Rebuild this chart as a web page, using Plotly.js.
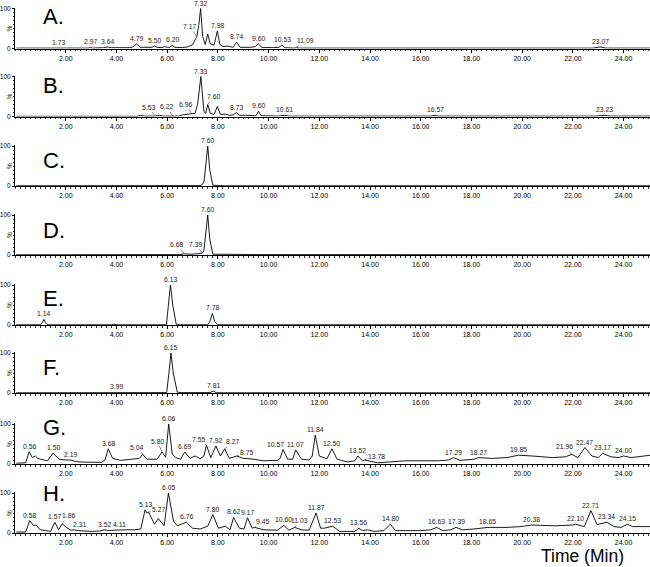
<!DOCTYPE html>
<html>
<head>
<meta charset="utf-8">
<script src="https://cdn.plot.ly/plotly-3.0.1.min.js"></script>
<style>
  html, body { margin: 0; padding: 0; background: #fff; }
  #chart { width: 650px; height: 567px; }
</style>
</head>
<body>
<div id="chart"></div>
<script>
// time (min), intensity (%) pairs
const traceA = [[0.05,1],[0.6,1],[0.8,2],[1.0,1],[1.6,1],[1.73,2],[1.85,1],[2.5,1],[2.9,1],[2.97,3],[3.05,1],[3.5,2],[3.64,4],[3.8,2],[4.5,2],[4.65,4],[4.79,11],[4.95,3],[5.3,2],[5.4,3],[5.50,6],[5.6,3],[5.8,2],[5.9,5],[6.0,3],[6.1,3],[6.20,8],[6.3,3],[6.6,2],[6.8,4],[7.0,9],[7.17,30],[7.25,60],[7.32,100],[7.4,30],[7.5,10],[7.6,36],[7.7,12],[7.85,8],[7.98,44],[8.08,10],[8.2,5],[8.4,6],[8.6,3],[8.74,16],[8.88,3],[9.3,3],[9.48,5],[9.60,12],[9.72,3],[10.2,2],[10.4,3],[10.53,8],[10.65,2],[11.0,1],[11.09,2],[11.2,1],[12.5,1],[13.0,2],[13.5,1],[14.5,1],[16.0,1],[17.0,1],[19.0,1],[21.0,1],[22.8,1],[23.07,4],[23.3,1],[25.07,1]];
const traceB = [[0.05,0.5],[4.8,0.5],[4.95,3],[5.1,1],[5.5,1],[5.53,1],[5.7,3],[5.85,1],[6.1,1],[6.22,1.5],[6.3,2],[6.45,1],[6.6,4],[6.96,8],[7.1,8],[7.2,30],[7.33,100],[7.45,12],[7.52,8],[7.60,30],[7.7,8],[7.85,5],[7.98,25],[8.1,5],[8.3,6],[8.45,3],[8.6,4],[8.73,10],[8.85,3],[9.1,3],[9.3,2],[9.5,2],[9.60,13],[9.7,2],[10.4,1],[10.61,3],[10.8,1],[16.4,1],[16.57,3],[16.7,1],[21.0,1],[21.3,2],[21.5,1],[22.9,1],[23.23,3],[23.5,1],[25.07,1]];
const traceC = [[0.05,0.5],[5.8,0.5],[5.9,1.5],[6.0,0.5],[6.6,0.5],[6.7,1.5],[6.85,0.5],[7.3,1],[7.39,4],[7.45,10],[7.52,50],[7.60,100],[7.68,40],[7.8,2],[8.1,1],[8.2,1.5],[8.3,0.5],[25.07,0.5]];
const traceD = [[0.05,0.5],[0.6,0.5],[0.7,1.5],[0.9,0.5],[5.8,0.5],[5.9,1.5],[6.0,0.5],[6.5,1],[6.68,3],[6.9,2],[7.2,3],[7.39,5],[7.45,12],[7.52,55],[7.60,100],[7.68,40],[7.8,2],[8.8,1.5],[9.1,1],[9.5,1],[25.07,0.5]];
const traceE = [[0.05,0.5],[0.7,0.5],[0.8,1.5],[0.9,0.5],[1.0,0.5],[1.08,6],[1.14,14],[1.2,6],[1.3,0.5],[3.8,0.5],[3.9,2],[4.05,0.5],[5.97,0.5],[6.05,50],[6.13,100],[6.22,50],[6.36,1],[6.5,0.5],[7.0,0.5],[7.1,1.5],[7.45,1.5],[7.6,0.5],[7.68,8],[7.78,29],[7.88,8],[7.98,0.5],[25.07,0.5]];
const traceF = [[0.05,0.5],[0.7,0.5],[0.8,1.5],[0.9,0.5],[3.4,0.5],[3.5,1.5],[3.6,0.5],[3.9,0.5],[3.99,2],[4.1,0.5],[4.2,1.5],[4.25,0.5],[5.55,0.5],[5.65,1.5],[5.8,0.5],[5.98,1],[6.07,50],[6.15,100],[6.24,50],[6.4,2],[6.55,1],[7.0,0.5],[7.7,1],[7.81,5],[7.95,0.5],[25.07,0.5]];
const traceG = [[0.05,2],[0.42,3],[0.56,31],[0.68,16],[0.8,20],[0.9,14],[1.0,12],[1.28,8],[1.50,27],[1.74,12],[2.0,10],[2.19,10],[2.4,6],[2.6,5],[3.4,4],[3.55,10],[3.68,38],[3.85,14],[4.17,9],[4.69,12],[4.9,14],[5.04,24],[5.2,12],[5.6,12],[5.7,20],[5.80,30],[5.94,17],[6.06,100],[6.2,25],[6.34,16],[6.53,12],[6.69,30],[6.9,14],[7.1,20],[7.3,13],[7.45,20],[7.55,47],[7.72,16],[7.92,45],[8.1,20],[8.27,38],[8.45,14],[8.75,20],[9.0,14],[9.3,13],[9.8,8],[10.35,9],[10.45,14],[10.57,36],[10.75,12],[10.95,12],[11.07,35],[11.3,12],[11.6,10],[11.72,20],[11.84,72],[12.0,20],[12.3,13],[12.50,38],[12.7,12],[13.1,5],[13.4,8],[13.52,20],[13.7,8],[13.78,10],[14.3,3],[15.4,8],[16.7,8],[17.1,10],[17.29,16],[17.55,9],[18.1,12],[18.27,16],[18.8,14],[19.4,16],[19.85,22],[20.4,20],[21.2,16],[21.7,18],[21.96,24],[22.2,16],[22.47,41],[22.75,20],[23.0,16],[23.17,27],[23.5,18],[23.8,16],[24.00,20],[24.3,16],[25.07,22]];
const traceH = [[0.05,2.5],[0.42,2.5],[0.58,31],[0.72,19],[0.82,20],[1.0,8],[1.4,4],[1.57,27],[1.72,8],[1.86,23],[2.05,13],[2.2,7],[2.31,8],[2.5,6],[3.0,4],[3.35,5],[3.52,8],[3.7,6],[3.9,7],[4.11,8],[4.4,8],[4.7,8],[4.96,10],[5.13,58],[5.2,50],[5.27,52],[5.5,22],[5.65,36],[5.88,18],[6.05,100],[6.25,30],[6.4,18],[6.6,23],[6.76,27],[7.0,12],[7.3,10],[7.6,17],[7.80,46],[8.02,12],[8.3,17],[8.48,8],[8.62,39],[8.85,12],[9.03,10],[9.17,38],[9.35,12],[9.45,14],[9.8,8],[10.35,7],[10.60,19],[10.8,7],[11.03,14],[11.3,8],[11.6,7],[11.87,50],[12.05,12],[12.2,12],[12.53,17],[12.8,4],[13.4,4],[13.56,12],[13.7,6],[13.9,8],[14.16,4],[14.55,6],[14.80,22],[15.0,6],[16.0,6],[16.4,8],[16.63,14],[16.86,6],[17.18,8],[17.39,14],[17.64,8],[18.1,10],[18.65,14],[19.4,14],[19.95,16],[20.38,20],[21.3,18],[22.0,20],[22.10,22],[22.45,16],[22.71,56],[22.95,21],[23.15,24],[23.34,27],[23.62,16],[23.9,14],[24.15,22],[24.35,16],[25.07,16]];

// peak labels (retention times printed above the peaks)
const labelsA = ["1.73","2.97","3.64","4.79","5.50","6.20","7.17","7.32","7.98","8.74","9.60","10.53","11.09","23.07"];
const labelsB = ["5.53","6.22","6.96","7.33","7.60","8.73","9.60","10.61","16.57","23.23"];
const labelsC = ["7.60"];
const labelsD = ["6.68","7.39","7.60"];
const labelsE = ["1.14","6.13","7.78"];
const labelsF = ["3.99","6.15","7.81"];
const labelsG = ["0.56","1.50","2.19","3.68","5.04","5.80","6.06","6.69","7.55","7.92","8.27","8.75","10.57","11.07","11.84","12.50","13.52","13.78","17.29","18.27","19.85","21.96","22.47","23.17","24.00"];
const labelsH = ["0.58","1.57","1.86","2.31","3.52","4.11","5.13","5.27","6.05","6.76","7.80","8.62","9.17","9.45","10.60","11.03","11.87","12.53","13.56","14.80","16.63","17.39","18.65","20.38","22.10","22.71","23.34","24.15"];

const panelNames = ["A.","B.","C.","D.","E.","F.","G.","H."];
const timeTicks = [2,4,6,8,10,12,14,16,18,20,22,24];

const TRACES = [traceA, traceB, traceC, traceD, traceE, traceF, traceG, traceH];
const LABELS = [labelsA, labelsB, labelsC, labelsD, labelsE, labelsF, labelsG, labelsH];

// labels that sit beside their peak with a leader line: [dx, dy] in px
const LEADERS = [
  { "7.17": [-7, -10], "11.09": [9, -7] },
  { "5.53": [-7, -9], "6.22": [-6, -9], "6.96": [-6, -9], "7.60": [6, -8] },
  {},
  { "6.68": [-8, -9], "7.39": [-7, -9] },
  {},
  {},
  { "5.04": [-6, -7], "5.80": [-5, -11], "7.55": [-8, -6], "8.27": [8, -7], "8.75": [10, -4],
    "10.57": [-8, -5], "13.78": [12, -4], "21.96": [-7, -8] },
  { "1.86": [6, -8], "2.31": [6, -5], "5.27": [10, -3], "9.45": [8, -6], "11.03": [5, -7] },
];

const W = 650, H = 567, LEFT = 15;
const PANEL_TOP = [8.5, 76.5, 146, 215, 285, 353, 424, 493]; // px of the 100 % line
const PANEL_H = 40;
const LETTER_Y = [16.5, 85.5, 160.5, 230.5, 298, 367, 427.5, 493.5];
const X_MAX = 25.04;
const Y_MAX = 102;
const FONT = "Liberation Sans, Arial, sans-serif";

const px2x = (px) => (px - LEFT) / (W - LEFT);
const px2y = (py) => 1 - py / H;

const data = [];
const layout = {
  width: W,
  height: H,
  margin: { l: LEFT, r: 0, t: 0, b: 0 },
  paper_bgcolor: "#fff",
  plot_bgcolor: "#fff",
  showlegend: false,
  font: { family: FONT, color: "#000", size: 7 },
  annotations: [],
};

TRACES.forEach((pts, i) => {
  const n = i === 0 ? "" : String(i + 1);
  const top = PANEL_TOP[i];
  const zero = top + PANEL_H;
  const topPx = top - (Y_MAX - 100) / 100 * PANEL_H;

  data.push({
    type: "scatter",
    mode: "lines",
    x: pts.map((p) => p[0]),
    y: pts.map((p) => p[1]),
    xaxis: "x" + n,
    yaxis: "y" + n,
    line: { color: "#000", width: 0.9 },
    hoverinfo: "skip",
  });

  layout["xaxis" + n] = {
    domain: [0, 1],
    range: [0, X_MAX],
    anchor: "y" + n,
    showline: true,
    linecolor: "#000",
    linewidth: 1,
    showgrid: false,
    zeroline: false,
    ticks: "outside",
    ticklen: 3,
    tickcolor: "#000",
    tickwidth: 1,
    tickmode: "array",
    tickvals: timeTicks,
    ticktext: timeTicks.map((t) => t.toFixed(2)),
    tickfont: { size: 7, color: "#000" },
    minor: { tickmode: "linear", tick0: 0, dtick: 0.2, ticks: "outside", ticklen: 1.5, tickcolor: "#000", tickwidth: 0.8 },
    fixedrange: true,
  };

  layout["yaxis" + n] = {
    domain: [px2y(zero), px2y(topPx)],
    range: [0, Y_MAX],
    anchor: "x" + n,
    showline: true,
    linecolor: "#000",
    linewidth: 1,
    showgrid: false,
    zeroline: false,
    ticks: "outside",
    ticklen: 2,
    tickcolor: "#000",
    tickmode: "array",
    tickvals: [0, 100],
    ticktext: ["0", "100"],
    tickfont: { size: 6.5, color: "#000" },
    minor: { tickmode: "linear", tick0: 0, dtick: 10, ticks: "outside", ticklen: 1.5, tickcolor: "#000", tickwidth: 0.8 },
    fixedrange: true,
  };

  // panel letter
  layout.annotations.push({
    xref: "paper", yref: "paper",
    x: px2x(41), y: px2y(LETTER_Y[i]),
    xanchor: "left", yanchor: "middle",
    text: panelNames[i],
    showarrow: false,
    font: { size: 22, color: "#000", family: FONT },
  });

  // "%" axis mark
  layout.annotations.push({
    xref: "paper", yref: "paper",
    x: px2x(9), y: px2y(top + PANEL_H / 2),
    xanchor: "center", yanchor: "middle",
    text: "%",
    textangle: -90,
    showarrow: false,
    font: { size: 6.5, color: "#000", family: FONT },
  });

  // peak labels
  LABELS[i].forEach((lab) => {
    const t = parseFloat(lab);
    const hit = pts.reduce((best, p) => (Math.abs(p[0] - t) < Math.abs(best[0] - t) ? p : best), pts[0]);
    const lead = LEADERS[i][lab];
    const ann = {
      xref: "x" + n, yref: "y" + n,
      x: t, y: hit[1],
      text: lab,
      font: { size: 6.8, color: "#222", family: FONT },
    };
    if (lead) {
      Object.assign(ann, {
        showarrow: true, arrowhead: 0, arrowwidth: 0.6, arrowcolor: "#333",
        standoff: 0, ax: lead[0], ay: lead[1],
      });
    } else {
      Object.assign(ann, { showarrow: false, yanchor: "bottom", yshift: 0 });
    }
    layout.annotations.push(ann);
  });
});

layout.annotations.push({
  xref: "paper", yref: "paper",
  x: px2x(582), y: px2y(556),
  xanchor: "center", yanchor: "middle",
  text: "Time (Min)",
  showarrow: false,
  font: { size: 17.5, color: "#000", family: FONT },
});

Plotly.newPlot("chart", data, layout, { displayModeBar: false, staticPlot: true });
</script>
</body>
</html>
